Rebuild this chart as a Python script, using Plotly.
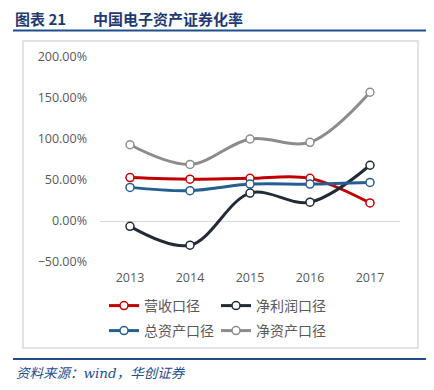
import plotly.graph_objects as go

years = ["2013", "2014", "2015", "2016", "2017"]
revenue = [0.53, 0.51, 0.52, 0.52, 0.22]          # 营收口径
net_profit = [-0.065, -0.295, 0.34, 0.23, 0.68]   # 净利润口径
total_assets = [0.41, 0.37, 0.45, 0.45, 0.47]     # 总资产口径
net_assets = [0.93, 0.69, 1.00, 0.96, 1.57]       # 净资产口径
y_ticks = [-0.5, 0, 0.5, 1.0, 1.5, 2.0]

OFF = 8  # page body margin
W, H = 434 - OFF, 390 - OFF
L, T, PW, PH = 100 - OFF, 57 - OFF, 300, 205
R, B = W - L - PW, H - T - PH


def px(x):  # page x -> paper
    return (x - OFF - L) / PW


def py(y):  # page y -> paper
    return (T + PH - (y - OFF)) / PH


series = [
    ("营收口径", revenue, "#C00000", "legend"),
    ("净利润口径", net_profit, "#222B35", "legend"),
    ("总资产口径", total_assets, "#255E91", "legend2"),
    ("净资产口径", net_assets, "#8C8C8C", "legend2"),
]

fig = go.Figure()
for name, vals, color, lg in series:
    fig.add_trace(go.Scatter(
        x=years, y=vals, name=name, mode="lines+markers",
        line=dict(color=color, width=3, shape="spline", smoothing=1),
        marker=dict(size=8, color="white", line=dict(color=color, width=1.5)),
        legend=lg,
    ))

tick_font = dict(family="Open Sans, Liberation Sans, sans-serif", size=12.5, color="#595959")
leg_font = dict(family="Noto Sans CJK SC, sans-serif", size=14, color="#595959")
title_font = dict(family="Noto Sans CJK SC, sans-serif", size=15, color="#1F3A70")

fig.update_layout(
    width=W, height=H,
    margin=dict(l=L, r=R, t=T, b=B, autoexpand=False),
    paper_bgcolor="white", plot_bgcolor="white",
    showlegend=True,
    xaxis=dict(range=[-0.5, 4.5], showgrid=False, showline=False, ticks="", tickfont=tick_font,
               ticklabelstandoff=6, fixedrange=True),
    yaxis=dict(range=[-0.5, 2.0], tickvals=y_ticks, tickformat=".2%",
               showgrid=False, showline=False, zeroline=True,
               zerolinecolor="#D9D9D9", zerolinewidth=1, ticks="",
               tickfont=tick_font, ticklabelstandoff=12, fixedrange=True),
    legend=dict(orientation="h", x=px(104), y=py(306), xanchor="left", yanchor="middle",
                font=leg_font, entrywidth=67, entrywidthmode="pixels",
                bgcolor="rgba(0,0,0,0)", traceorder="normal"),
    legend2=dict(orientation="h", x=px(104), y=py(331), xanchor="left", yanchor="middle",
                 font=leg_font, entrywidth=67, entrywidthmode="pixels",
                 bgcolor="rgba(0,0,0,0)", traceorder="normal"),
    shapes=[
        dict(type="rect", xref="paper", yref="paper", x0=px(23), x1=px(418), y0=py(41), y1=py(348),
             line=dict(color="#D9D9D9", width=1.5), layer="below"),
        dict(type="line", xref="paper", yref="paper", x0=px(13), x1=px(427), y0=py(30.5), y1=py(30.5),
             line=dict(color="#1F4E8C", width=2)),
        dict(type="line", xref="paper", yref="paper", x0=px(13), x1=px(427), y0=py(359), y1=py(359),
             line=dict(color="#1F4E8C", width=2)),
    ],
    annotations=[
        dict(text="<b>图表 21</b>", xref="paper", yref="paper", x=px(14), y=py(18),
             xanchor="left", yanchor="middle", showarrow=False, borderpad=0, font=title_font),
        dict(text="<b>中国电子资产证券化率</b>", xref="paper", yref="paper", x=px(92), y=py(18),
             xanchor="left", yanchor="middle", showarrow=False, borderpad=0, font=title_font),
        dict(text="<i>资料来源：wind，华创证券</i>", xref="paper", yref="paper", x=px(14), y=py(373),
             xanchor="left", yanchor="middle", showarrow=False,
             font=dict(family="DejaVu Serif, Noto Sans CJK SC, serif", size=13.5, color="#1F4E8C")),
    ],
)

fig.write_html("out.html")
